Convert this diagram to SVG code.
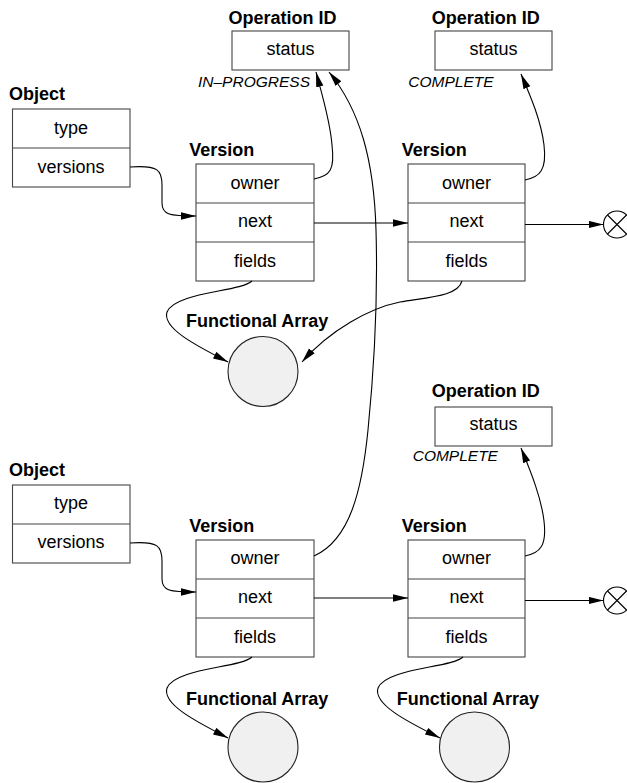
<svg xmlns="http://www.w3.org/2000/svg" width="627" height="783" viewBox="0 0 627 783">
<defs>
<marker id="arr" markerUnits="userSpaceOnUse" markerWidth="16" markerHeight="10" refX="15" refY="4" orient="auto">
<path d="M0,0.3 L15,4 L0,7.7 Z" fill="#000"/>
</marker>
<style>
.box{fill:#fff;stroke:#444;stroke-width:1.1}
.fa{fill:#f0f0f0;stroke:#222;stroke-width:1.1}
.lbl{font-family:"Liberation Sans",Arial,sans-serif;font-weight:bold;font-size:18px;fill:#000}
.fld{font-family:"Liberation Sans",Arial,sans-serif;font-size:18px;fill:#000;text-anchor:middle}
.st{font-family:"Liberation Sans",Arial,sans-serif;font-style:italic;font-size:15.5px;fill:#000}
.c{fill:none;stroke:#444;stroke-width:1.1}
.x{fill:none;stroke:#000;stroke-width:1.1}
.ca{fill:none;stroke:#000;stroke-width:1.1;marker-end:url(#arr)}
.nul{fill:#fff;stroke:#000;stroke-width:1.1}
</style>
</defs>
<rect width="627" height="783" fill="#fff"/>

<g id="op1">
<text class="lbl" x="228.5" y="24">Operation ID</text>
<rect class="box" x="232" y="31" width="117" height="39"/>
<text class="fld" x="290.5" y="55">status</text>
<text class="st" x="198" y="86.5">IN–PROGRESS</text>
</g>
<g id="op2">
<text class="lbl" x="431.7" y="24">Operation ID</text>
<rect class="box" x="435" y="31" width="117" height="39"/>
<text class="fld" x="493.5" y="55">status</text>
<text class="st" x="408.3" y="86.5">COMPLETE</text>
</g>
<g id="op3">
<text class="lbl" x="431.7" y="396.7">Operation ID</text>
<rect class="box" x="435" y="407" width="117" height="39"/>
<text class="fld" x="493.5" y="430">status</text>
<text class="st" x="412.7" y="460.7">COMPLETE</text>
</g>

<g id="obj1">
<text class="lbl" x="9" y="100">Object</text>
<rect class="box" x="12.5" y="109" width="117.5" height="78"/>
<line class="c" x1="12.5" y1="148" x2="130" y2="148"/>
<text class="fld" x="71" y="133.5">type</text>
<text class="fld" x="71" y="172.5">versions</text>
</g>
<g id="obj2">
<text class="lbl" x="9" y="476">Object</text>
<rect class="box" x="12.5" y="485" width="117.5" height="78"/>
<line class="c" x1="12.5" y1="524" x2="130" y2="524"/>
<text class="fld" x="71" y="509">type</text>
<text class="fld" x="71" y="548">versions</text>
</g>

<g id="ver1">
<text class="lbl" x="189.3" y="156">Version</text>
<rect class="box" x="196" y="164" width="118" height="117"/>
<line class="c" x1="196" y1="203" x2="314" y2="203"/>
<line class="c" x1="196" y1="242" x2="314" y2="242"/>
<text class="fld" x="255" y="188.5">owner</text>
<text class="fld" x="255" y="227">next</text>
<text class="fld" x="255" y="266.5">fields</text>
</g>
<g id="ver2">
<text class="lbl" x="401.7" y="156">Version</text>
<rect class="box" x="408" y="164" width="117" height="117"/>
<line class="c" x1="408" y1="203" x2="525" y2="203"/>
<line class="c" x1="408" y1="242" x2="525" y2="242"/>
<text class="fld" x="466.5" y="188.5">owner</text>
<text class="fld" x="466.5" y="227">next</text>
<text class="fld" x="466.5" y="266.5">fields</text>
</g>
<g id="ver3">
<text class="lbl" x="189.3" y="531.7">Version</text>
<rect class="box" x="196" y="540" width="118" height="117"/>
<line class="c" x1="196" y1="579" x2="314" y2="579"/>
<line class="c" x1="196" y1="618" x2="314" y2="618"/>
<text class="fld" x="255" y="564">owner</text>
<text class="fld" x="255" y="603">next</text>
<text class="fld" x="255" y="642.5">fields</text>
</g>
<g id="ver4">
<text class="lbl" x="401.7" y="531.7">Version</text>
<rect class="box" x="408" y="540" width="117" height="117"/>
<line class="c" x1="408" y1="579" x2="525" y2="579"/>
<line class="c" x1="408" y1="618" x2="525" y2="618"/>
<text class="fld" x="466.5" y="564">owner</text>
<text class="fld" x="466.5" y="603">next</text>
<text class="fld" x="466.5" y="642.5">fields</text>
</g>

<g id="fa1">
<text class="lbl" x="186" y="327">Functional Array</text>
<circle class="fa" cx="263" cy="371.5" r="35"/>
</g>
<g id="fa2">
<text class="lbl" x="186" y="705">Functional Array</text>
<circle class="fa" cx="263" cy="747" r="35"/>
</g>
<g id="fa3">
<text class="lbl" x="396.7" y="705">Functional Array</text>
<circle class="fa" cx="474.5" cy="747" r="35"/>
</g>

<g id="null1">
<circle class="nul" cx="617" cy="224.5" r="13.5"/>
<path class="x" d="M607.5,215 L626.5,234 M607.5,234 L626.5,215"/>
</g>
<g id="null2">
<circle class="nul" cx="617" cy="600.5" r="13.5"/>
<path class="x" d="M607.5,591 L626.5,610 M607.5,610 L626.5,591"/>
</g>

<g id="connectors">
<path class="ca" d="M130,167 C158,165 162,170 162,185 L162,203 C162,215 170,216 196,216"/>
<path class="ca" d="M314,223 L408,223"/>
<path class="ca" d="M525,224.5 L603.5,224.5"/>
<path class="ca" d="M314,179 C330,176 335,170 332,145 C330,120 322,95 316,72"/>
<path class="ca" d="M525,180 C540,177 547,170 544,145 C541,120 530,95 521,74"/>
<path class="ca" d="M314,556 C350,540 362,490 368,430 C374,370 378,300 376,230 C374,160 360,110 329,72"/>
<path class="ca" d="M252,281 C240,292 175,292 167,312 C162,328 195,345 228,362"/>
<path class="ca" d="M462,281 C458,296 430,297 400,302 C370,308 330,330 302,362"/>
<path class="ca" d="M252,657 C240,668 175,668 167,688 C162,704 195,721 228,738"/>
<path class="ca" d="M463,657 C451,668 386,668 378,688 C373,704 406,721 440,738"/>
<path class="ca" d="M130,543 C158,541 162,546 162,561 L162,579 C162,591 170,592 196,592"/>
<path class="ca" d="M314,598 L408,598"/>
<path class="ca" d="M525,600.5 L603.5,600.5"/>
<path class="ca" d="M525,556 C540,553 547,546 544,521 C541,496 530,470 521,448"/>
</g>
</svg>
